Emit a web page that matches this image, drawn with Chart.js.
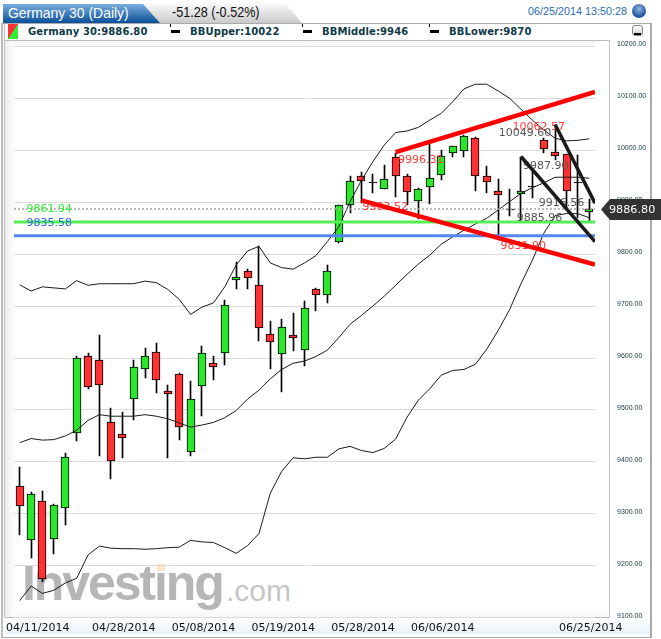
<!DOCTYPE html>
<html>
<head>
<meta charset="utf-8">
<title>Germany 30 (Daily)</title>
<script src="https://cdn.jsdelivr.net/npm/chart.js@4/dist/chart.umd.min.js"></script>
<style>
    html, body { margin: 0; padding: 0; background: #fff; }
    #wrap { position: relative; width: 661px; height: 639px; overflow: hidden; font-family: "Liberation Sans", sans-serif; }
    #wrap div { position: absolute; white-space: nowrap; }
    canvas { position: absolute; left: 0; top: 0; }
    .legend { top: 25px; font: bold 10px "DejaVu Sans", sans-serif; line-height: 13px; color: #0f3a48; letter-spacing: 0.1px; }
    .dash { top: 30px; width: 9px; height: 3px; background: #000; }
    .tick { top: 24px; width: 1px; height: 3px; background: #000; }
</style>
</head>
<body>
<div id="wrap">
    <div style="left:1px;top:23px;width:2px;height:615px;background:#bbb"></div>
    <div style="left:4px;top:23px;width:1px;height:594px;background:#bbb"></div>
    <div style="left:1px;top:23px;width:650px;height:1px;background:#aaa"></div>
    <div style="left:650px;top:23px;width:2px;height:615px;background:#aaa"></div>
    <div style="left:1px;top:637px;width:651px;height:1px;background:#aaa"></div>
    <div style="left:5px;top:40px;width:604px;height:1px;background:#bbb"></div>
    <div style="left:5px;top:617px;width:604px;height:1px;background:#bbb"></div>
    <div style="left:609px;top:40px;width:1px;height:578px;background:#c4c4c4"></div>
    <div style="left:5px;top:618px;width:645px;height:16px;background:linear-gradient(#fff,#e8f2fb)"></div>
    <div style="left:5px;top:41px;width:10px;height:576px;background:linear-gradient(to right,#eee,#fff)"></div>
    <div style="left:14px;top:41px;width:581px;height:8px;background:linear-gradient(#f5f5f5,#fff)"></div>
    <div style="left:14px;top:606px;width:595px;height:11px;background:linear-gradient(#fff,#f6f6f6)"></div>

    <div style="left:3px;top:3px;width:300px;height:20px;background:linear-gradient(#fbfbfb,#c9c9c9);clip-path:polygon(130px 1px,282px 0,299px 20px,150px 20px)"></div>
    <div style="left:3px;top:4px;width:158px;height:19px;background:linear-gradient(#79aede,#0a4f98);clip-path:polygon(0 0,140px 0,157px 19px,0 19px)"></div>
    <div style="left:8px;top:4px;font-size:14.5px;line-height:18px;color:#fff;transform:scaleX(.96);transform-origin:left">Germany 30 (Daily)</div>
    <div style="left:172px;top:4px;font-size:14px;line-height:17px;color:#111;transform:scaleX(.9);transform-origin:left">-51.28 (-0.52%)</div>
    <div style="left:528px;top:4px;font-size:10.8px;line-height:15px;color:#2a6cb3;">06/25/2014 13:50:28</div>
    <div style="left:632px;top:4px;width:14px;height:14px;border-radius:7px;background:radial-gradient(circle at 50% 35%,#8fb6e6,#1c4f9c 70%,#9aa 100%)"></div>

    <div style="left:8px;top:24px;width:10px;height:15px;background:linear-gradient(to bottom right,#f33 50%,#3e3 50%)"></div>
    <div class="legend" style="left:28px">Germany 30:9886.80</div>
    <div class="tick" style="left:170px"></div><div class="dash" style="left:171px"></div>
    <div class="legend" style="left:190px">BBUpper:10022</div>
    <div class="tick" style="left:302px"></div><div class="dash" style="left:303px"></div>
    <div class="legend" style="left:322px">BBMiddle:9946</div>
    <div class="tick" style="left:429px"></div><div class="dash" style="left:430px"></div>
    <div class="legend" style="left:449px">BBLower:9870</div>
    <div style="left:632px;top:25px;width:9px;height:9px;border:1px solid #888;border-radius:3px;background:linear-gradient(#fff,#ccc)"></div>
    <div style="left:634px;top:33px;width:7px;height:2px;background:#000"></div>

    <div style="left:22px;top:553px;font:bold 50px/60px 'Liberation Sans',sans-serif;letter-spacing:-2.1px;color:#b6b6b6">Investing</div>
    <div style="left:226px;top:573px;font:30px/36px 'Liberation Sans',sans-serif;color:#c6c6c6">.com</div>
    <div style="left:157px;top:564px;width:8px;height:7px;background:#fbe6c4"></div>

    <canvas id="chart" width="661" height="644"></canvas>

    <div style="left:601px;top:199px;width:60px;height:21px;background:#333;clip-path:polygon(9px 0,100% 0,100% 100%,9px 100%,0 50%)"></div>
    <div style="left:609px;top:202px;font:11.2px/15px 'DejaVu Sans',sans-serif;color:#fff">9886.80</div>
</div>

<script>
// categories
const dates = ['04/11/2014','04/14/2014','04/15/2014','04/16/2014','04/17/2014','04/22/2014','04/23/2014','04/24/2014','04/25/2014','04/28/2014',
    '04/29/2014','04/30/2014','05/02/2014','05/05/2014','05/06/2014','05/07/2014','05/08/2014','05/09/2014','05/12/2014','05/13/2014',
    '05/14/2014','05/15/2014','05/16/2014','05/19/2014','05/20/2014','05/21/2014','05/22/2014','05/23/2014','05/26/2014','05/27/2014',
    '05/28/2014','05/29/2014','05/30/2014','06/02/2014','06/03/2014','06/04/2014','06/05/2014','06/06/2014','06/09/2014','06/10/2014',
    '06/11/2014','06/12/2014','06/13/2014','06/16/2014','06/17/2014','06/18/2014','06/19/2014','06/20/2014','06/23/2014','06/24/2014','06/25/2014'];
const dateTicks = ['04/11/2014','04/28/2014','05/08/2014','05/19/2014','05/28/2014','06/06/2014','06/25/2014'];
const priceTicks = [10200,10100,10000,9900,9800,9700,9600,9500,9400,9300,9200,9100];

// candles
const opens = [9353,9250,9325,9252,9312,9456,9603,9597,9476,9454,9521,9578,9612,9537,9570,9419,9547,9591,9609,9751,
    9767,9741,9647,9607,9645,9616,9732,9722,9824,9894,9951,9939,9926,9986,9950,9903,9930,9953,9994,9998,
    10023,9951,9921,9887,9915,9932,10019,9996,9992,9939,9882];
const highs = [9391,9342,9345,9320,9418,9603,9609,9645,9503,9497,9597,9619,9628,9549,9572,9555,9623,9603,9711,9784,
    9772,9815,9671,9676,9686,9710,9734,9780,9894,9951,9958,9955,9971,9994,9954,9928,10012,10000,10009,10029,
    10025,9970,9944,9925,9987,9962,10023,10049,9992,9990,9907];
const lows = [9260,9215,9168,9222,9278,9440,9540,9411,9368,9408,9481,9562,9533,9408,9442,9411,9488,9558,9587,9732,
    9732,9632,9578,9535,9614,9584,9690,9706,9821,9879,9899,9918,9926,9909,9894,9867,9897,9942,9986,9987,
    9922,9918,9835,9874,9865,9908,9994,9981,9885,9869,9862];
const closes = [9315,9339,9175,9318,9410,9601,9545,9549,9402,9447,9583,9603,9557,9530,9467,9522,9609,9582,9703,9755,
    9754,9657,9630,9659,9639,9697,9722,9768,9894,9940,9940,9937,9944,9950,9919,9926,9947,9988,10009,10028,
    9950,9938,9913,9885,9921,9930,10003,9988,9921,9937,9886.8];

// Bollinger bands
const bbUpper = [9741,9729,9737,9735,9733,9749,9740,9743,9743,9743,9743,9748,9745,9732,9713,9684,9698,9706,9737,9779,
    9806,9815,9783,9774,9771,9783,9797,9824,9852,9901,9942,9978,10010,10034,10037,10044,10058,10071,10093,10118,
    10127,10127,10114,10100,10079,10058,10039,10023,10018,10019,10022];
const bbMiddle = [9437,9445,9442,9443,9450,9461,9480,9491,9488,9488,9488,9491,9488,9483,9475,9467,9471,9476,9485,9499,
    9521,9538,9560,9578,9590,9594,9603,9615,9639,9665,9682,9700,9719,9740,9761,9781,9798,9819,9833,9846,
    9858,9869,9885,9901,9917,9928,9937,9948,9948,9948,9946];
const bbLower = [9133,9161,9147,9153,9167,9176,9221,9238,9234,9233,9233,9232,9233,9235,9236,9249,9246,9245,9235,9224,
    9239,9262,9340,9382,9408,9406,9409,9409,9425,9430,9422,9418,9426,9444,9486,9519,9541,9567,9576,9578,
    9588,9617,9653,9693,9743,9788,9840,9874,9878,9878,9870];

// drawn levels and trend lines, index along the dates then price
const lastPrice = 9886.8;
const greenLevel = 9861.94;
const blueLevel = 9835.58;
const redUpperIdx = [33, 50.5];
const redUpperVal = [9996.31, 10112];
const redLowerIdx = [30, 50.5];
const redLowerVal = [9903.52, 9780];
const blackUpperIdx = [47, 50.5];
const blackUpperVal = [10049.6, 9898];
const blackLowerIdx = [44, 50.5];
const blackLowerVal = [9987.9, 9824];

// price notes on the chart
const noteTexts = ['10062.57','10049.60','9987.90','9996.31','9903.52','9831.90','9916.56','9885.96','9861.94','9835.58'];
const noteIdx = [43.26,42.05,44.19,33.2,30.1,42.2,45.57,43.63,0.59,0.59];
const noteVals = [10045,10032,9970,9980,9890,9816,9899,9870,9886,9859];
const noteColors = ['#ff3b3b','#555','#555','#ff3b3b','#ff3b3b','#ff3b3b','#555','#555','#33ee33','#2f66ee'];

const GREEN = '#2de52d';
const RED = '#ff3333';

const xy = (xs, ys) => xs.map((x, i) => ({ x: x, y: ys[i] }));
const bandData = (vals) => vals.map((v, i) => ({ x: i, y: v }));
const fullWidth = [-0.5, 50.5];

function bandSet(vals) {
    return { type: 'line', data: bandData(vals), borderColor: '#1a1a1a', borderWidth: 1, pointRadius: 0, tension: 0, order: 4 };
}

function levelSet(val, color, width, dash) {
    return {
        type: 'line', data: fullWidth.map(x => ({ x: x, y: val })), borderColor: color, borderWidth: width,
        borderDash: dash || [], pointRadius: 0, order: 3
    };
}

function trendSet(xs, ys, color, width) {
    return { type: 'line', label: 'trend', data: xy(xs, ys), borderColor: color, borderWidth: width, pointRadius: 0, order: 1 };
}

// text sits under the trend lines, so it goes in just before them
const notesPlugin = {
    id: 'notes',
    beforeDatasetDraw(chart, args) {
        const ds = chart.data.datasets[args.index];
        if (ds.label !== 'trend' || chart.$notesDrawn) return;
        chart.$notesDrawn = true;
        const ctx = chart.ctx;
        ctx.save();
        ctx.font = '11px "DejaVu Sans", sans-serif';
        ctx.textBaseline = 'middle';
        noteTexts.forEach((t, i) => {
            ctx.fillStyle = noteColors[i];
            ctx.fillText(t, chart.scales.x.getPixelForValue(noteIdx[i]), chart.scales.y.getPixelForValue(noteVals[i]));
        });
        ctx.restore();
    },
    afterDraw(chart) { chart.$notesDrawn = false; }
};

// candles look soft on fractional pixels, snap them to the grid
const snapPlugin = {
    id: 'snap',
    beforeDatasetsDraw(chart) {
        chart.data.datasets.forEach((ds, i) => {
            if (ds.type === 'line') return;
            chart.getDatasetMeta(i).data.forEach(el => {
                el.x = ds.barThickness === 1 ? Math.floor(el.x) + 0.5 : Math.round(el.x);
                el.y = Math.round(el.y);
                el.base = Math.round(el.base);
            });
        });
    }
};

new Chart(document.getElementById('chart'), {
    type: 'bar',
    plugins: [notesPlugin, snapPlugin],
    data: {
        datasets: [
            trendSet(redUpperIdx, redUpperVal, '#ff0000', 4.5),
            trendSet(redLowerIdx, redLowerVal, '#ff0000', 4.5),
            trendSet(blackUpperIdx, blackUpperVal, '#1a1a1a', 3.5),
            trendSet(blackLowerIdx, blackLowerVal, '#1a1a1a', 3.5),
            levelSet(lastPrice, '#a8a8a8', 1.5, [2, 2]),
            levelSet(greenLevel, '#55ee55', 3),
            levelSet(blueLevel, '#5588ee', 3),
            bandSet(bbUpper),
            bandSet(bbMiddle),
            bandSet(bbLower),
            {
                data: dates.map((d, i) => ({ x: i, y: [opens[i], closes[i]] })),
                backgroundColor: dates.map((d, i) => Math.abs(opens[i] - closes[i]) < 3 ? '#000' : (closes[i] >= opens[i] ? GREEN : RED)),
                borderColor: '#000',
                borderWidth: 1,
                borderSkipped: false,
                barThickness: 8,
                grouped: false,
                order: 5
            },
            {
                data: dates.map((d, i) => ({ x: i, y: [lows[i], highs[i]] })),
                backgroundColor: '#000',
                barThickness: 1,
                grouped: false,
                order: 6
            }
        ]
    },
    options: {
        responsive: false,
        animation: false,
        layout: { padding: { left: 14, top: 46.3, right: 0, bottom: 0 } },
        plugins: { legend: { display: false }, tooltip: { enabled: false } },
        scales: {
            x: {
                type: 'linear',
                offset: false,
                min: -0.5,
                max: 50.5,
                grid: { display: false, offset: false, drawTicks: false },
                border: { display: false },
                afterBuildTicks(scale) {
                    // the first date is pushed right so it stays inside the frame
                    scale.ticks = dateTicks.map((d, i) => ({ value: i === 0 ? 1.58 : dates.indexOf(d) + 0.13 }));
                },
                afterFit(scale) { scale.height = 22; },
                ticks: {
                    autoSkip: false,
                    maxRotation: 0,
                    padding: 4,
                    color: '#111',
                    font: { family: 'DejaVu Sans', size: 11 },
                    callback: (value, index) => dateTicks[index]
                }
            },
            y: {
                position: 'right',
                min: 9100,
                max: 10200,
                grid: { color: '#dcdcdc', drawTicks: false, lineWidth: 1 },
                border: { display: false },
                afterBuildTicks(scale) { scale.ticks = priceTicks.map(v => ({ value: v })); },
                afterFit(scale) { scale.width = 66; },
                ticks: {
                    padding: 22,
                    labelOffset: -2,
                    color: '#17363f',
                    font: { family: 'Liberation Sans', size: 7 },
                    callback: (value) => value.toFixed(2)
                }
            }
        }
    }
});
</script>
</body>
</html>
